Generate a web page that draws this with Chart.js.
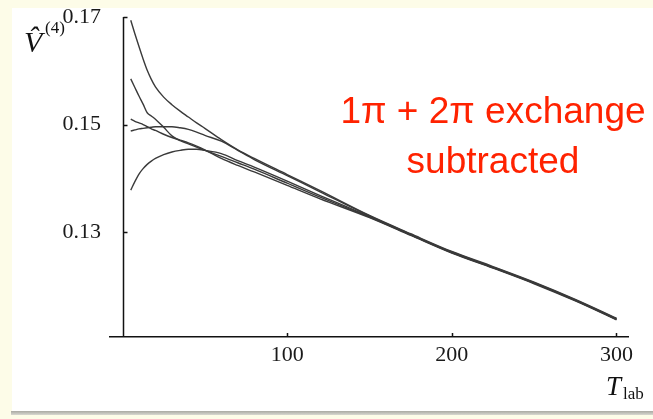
<!DOCTYPE html>
<html>
<head>
<meta charset="utf-8">
<script src="https://cdn.jsdelivr.net/npm/chart.js@4.4.1/dist/chart.umd.min.js"></script>
<style>
  body { margin: 0; background: #fdfce8; width: 653px; height: 419px; overflow: hidden; position: relative; }
  #panel { position: absolute; left: 12px; top: 8px; width: 641px; height: 403px; background: #fff; }
  #shadow { position: absolute; left: 11px; top: 411px; width: 642px; height: 4px;
    background: linear-gradient(#a9a9a2, #d8d8d0); }
  #wrap { position: absolute; left: 0; top: 0; width: 653px; height: 419px; }
  .lbl { position: absolute; font-family: "Liberation Serif", serif; color: #111; line-height: 1; white-space: nowrap; }
  #note { position: absolute; left: 333px; top: 86px; width: 320px; text-align: center;
    font: 37px "Liberation Sans", Arial, sans-serif; line-height: 50px; color: #ff2200; }
</style>
</head>
<body>
<div id="panel"></div>
<div id="shadow"></div>
<div id="wrap"><canvas id="chart" width="653" height="419"></canvas></div>
<span class="lbl" style="left:24px; top:27px; font-size:30px; font-style:italic;">V̂</span>
<span class="lbl" style="left:45px; top:19px; font-size:17px;">(4)</span>
<span class="lbl" style="left:606px; top:373px; font-size:27px; font-style:italic;">T</span>
<span class="lbl" style="left:623px; top:385px; font-size:17px;">lab</span>
<div id="note">1π + 2π exchange<br>subtracted</div>
<script>
const tlab = [5, 7.5, 10, 12.5, 15, 17.5, 20, 25, 30, 35, 40, 45, 50, 60, 70, 80, 100, 120, 150, 175, 200, 225, 250, 275, 300];

const curveA = [0.1694, 0.1669, 0.1645, 0.1622, 0.1601, 0.1584, 0.1570, 0.1551, 0.1537, 0.1525, 0.1514, 0.1503, 0.1493, 0.1472, 0.1453, 0.1437, 0.1407, 0.1377, 0.1331, 0.1297, 0.1264, 0.1236, 0.1207, 0.1175, 0.1140];
const curveB = [0.1585, 0.1569, 0.1553, 0.1538, 0.1522, 0.1516, 0.1510, 0.1495, 0.1479, 0.1470, 0.1464, 0.1458, 0.1452, 0.1441, 0.1429, 0.1417, 0.1391, 0.1365, 0.1328, 0.1295, 0.1262, 0.1234, 0.1205, 0.1173, 0.1138];
const curveC = [0.1510, 0.1506, 0.1503, 0.1500, 0.1496, 0.1492, 0.1489, 0.1482, 0.1476, 0.1471, 0.1466, 0.1460, 0.1453, 0.1437, 0.1424, 0.1412, 0.1387, 0.1362, 0.1327, 0.1294, 0.1261, 0.1233, 0.1204, 0.1172, 0.1137];
const curveD = [0.1488, 0.1490, 0.1492, 0.1493, 0.1494, 0.1495, 0.1496, 0.1496, 0.1496, 0.1494, 0.1491, 0.1486, 0.1480, 0.1469, 0.1452, 0.1435, 0.1405, 0.1375, 0.1330, 0.1296, 0.1263, 0.1235, 0.1206, 0.1174, 0.1139];
const curveE = [0.1378, 0.1394, 0.1408, 0.1418, 0.1426, 0.1432, 0.1437, 0.1444, 0.1449, 0.1452, 0.1454, 0.1454, 0.1452, 0.1446, 0.1433, 0.1421, 0.1395, 0.1368, 0.1329, 0.1295, 0.1262, 0.1234, 0.1205, 0.1173, 0.1138];

const xTicks = [100, 200, 300];
const yTicks = [0.13, 0.15, 0.17];

const toPoints = (vals) => vals.map((v, i) => ({ x: tlab[i], y: v }));

const lineSet = (vals) => ({
  data: toPoints(vals),
  borderColor: "#3a3a3a",
  borderWidth: 1.4,
  pointRadius: 0,
  fill: false,
  cubicInterpolationMode: "monotone",
});

// axis line through x = 0 plus short inward tick marks
const axisMarks = {
  id: "axisMarks",
  afterDraw: (chart) => {
    const { ctx, scales: { x, y } } = chart;
    const x0 = Math.round(x.getPixelForValue(0)) + 0.5;
    ctx.save();
    ctx.strokeStyle = "#111";
    ctx.lineWidth = 1.5;
    ctx.beginPath();
    ctx.moveTo(x0, y.top);
    ctx.lineTo(x0, y.bottom);
    yTicks.forEach((v) => {
      const py = Math.round(y.getPixelForValue(v)) + 0.5;
      ctx.moveTo(x0, py);
      ctx.lineTo(x0 + 4, py);
    });
    xTicks.forEach((v) => {
      const px = Math.round(x.getPixelForValue(v)) + 0.5;
      ctx.moveTo(px, y.bottom);
      ctx.lineTo(px, y.bottom - 4);
    });
    ctx.stroke();
    ctx.restore();
  },
};

const tickFont = { family: "Liberation Serif", size: 22 };

new Chart(document.getElementById("chart"), {
  type: "line",
  data: {
    datasets: [lineSet(curveA), lineSet(curveB), lineSet(curveC), lineSet(curveD), lineSet(curveE)],
  },
  options: {
    responsive: false,
    animation: false,
    layout: { padding: { top: 17, right: 25, left: 0, bottom: 0 } },
    plugins: { legend: { display: false }, tooltip: { enabled: false } },
    scales: {
      x: {
        type: "linear",
        min: -7.6,
        max: 307,
        border: { display: true, color: "#111", width: 1.5 },
        grid: { display: true, drawOnChartArea: false, drawTicks: false },
        afterBuildTicks: (s) => { s.ticks = xTicks.map((v) => ({ value: v })); },
        afterFit: (s) => { s.height = 82; },
        ticks: { font: tickFont, color: "#1a1a1a", padding: 5, maxRotation: 0 },
      },
      y: {
        type: "linear",
        min: 0.1105,
        max: 0.17,
        border: { display: false },
        grid: { display: false },
        afterBuildTicks: (s) => { s.ticks = yTicks.map((v) => ({ value: v })); },
        afterFit: (s) => { s.width = 110; },
        ticks: { font: tickFont, color: "#1a1a1a", padding: 1, callback: (v) => v.toFixed(2) },
      },
    },
  },
  plugins: [axisMarks],
});
</script>
</body>
</html>
